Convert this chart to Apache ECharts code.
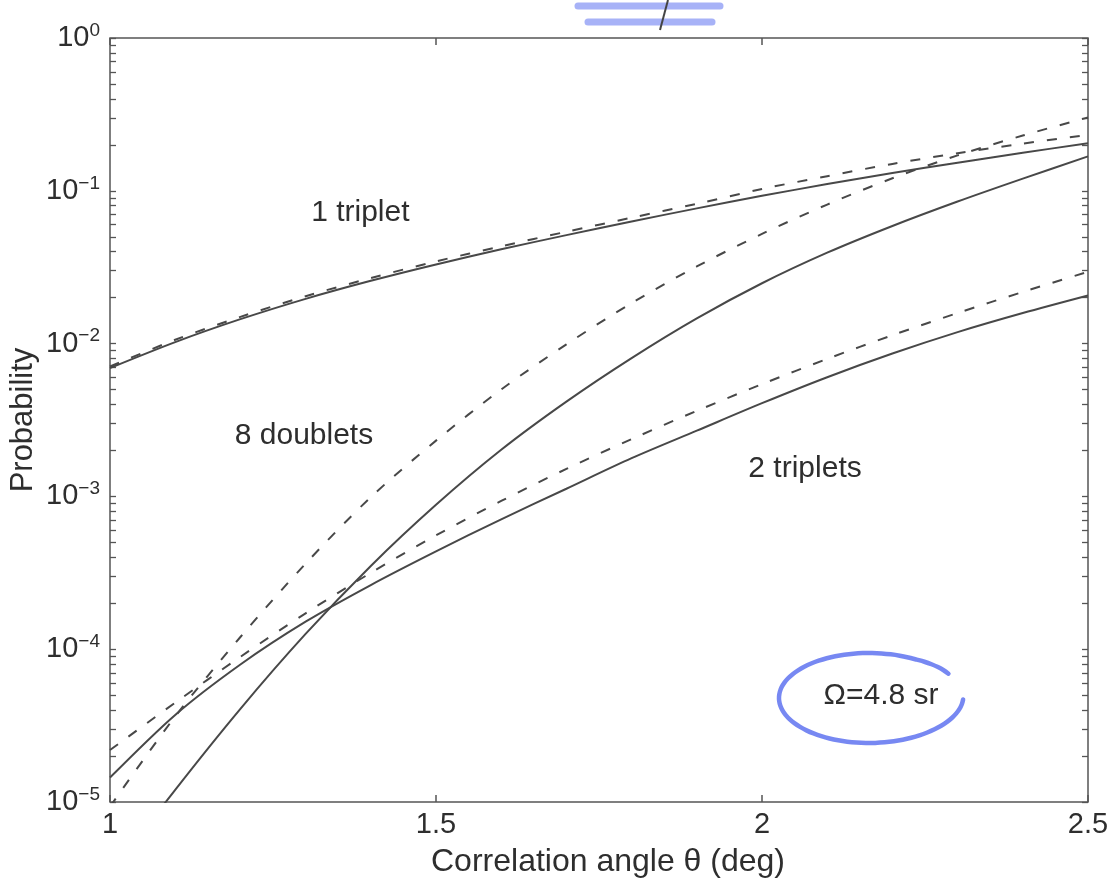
<!DOCTYPE html>
<html><head><meta charset="utf-8">
<script src="https://cdn.jsdelivr.net/npm/echarts@6/dist/echarts.min.js"></script>
<style>html,body{margin:0;padding:0;background:#fff}#c{width:1118px;height:889px}</style>
</head><body><div id="c"></div>
<script>
// ---- data ----
const theta = [1.0, 1.1, 1.2, 1.3, 1.4, 1.5, 1.6, 1.7, 1.8, 1.9, 2.0, 2.1, 2.2, 2.3, 2.4, 2.5];

const oneTripletSolid  = [0.00692, 0.01023, 0.01445, 0.01963, 0.02576, 0.03296, 0.04140, 0.05129, 0.06295, 0.07674, 0.09268, 0.1107, 0.1306, 0.1528, 0.1774, 0.2046];
const oneTripletDashed = [0.00708, 0.01059, 0.01496, 0.02042, 0.02685, 0.03451, 0.04335, 0.05395, 0.06668, 0.08222, 0.1028, 0.1247, 0.1500, 0.1762, 0.2037, 0.2323];
const eightDoubletsSolid  = [3.31e-6, 1.202e-5, 4.074e-5, 1.259e-4, 3.508e-4, 8.810e-4, 2.018e-3, 4.169e-3, 8.035e-3, 0.01462, 0.02483, 0.03936, 0.05888, 0.08511, 0.1202, 0.1679];
const eightDoubletsDashed = [9.33e-6, 3.631e-5, 1.202e-4, 3.631e-4, 9.886e-4, 2.317e-3, 5.012e-3, 9.886e-3, 0.01841, 0.03199, 0.05224, 0.08128, 0.1208, 0.1706, 0.2301, 0.3020];
const twoTripletsSolid  = [1.445e-5, 3.715e-5, 7.943e-5, 1.514e-4, 2.630e-4, 4.365e-4, 7.079e-4, 1.122e-3, 1.778e-3, 2.692e-3, 4.074e-3, 6.026e-3, 8.610e-3, 0.01189, 0.01585, 0.02065];
const twoTripletsDashed = [2.188e-5, 4.467e-5, 8.913e-5, 1.718e-4, 3.162e-4, 5.559e-4, 9.333e-4, 1.514e-3, 2.371e-3, 3.631e-3, 5.433e-3, 7.943e-3, 0.01135, 0.01585, 0.02178, 0.02951];

const xTicks = [1, 1.5, 2, 2.5];
const yDecades = [1e-5, 1e-4, 1e-3, 1e-2, 1e-1, 1];
const yMantissas = [1, 2, 3, 4, 5, 6, 7, 8, 9];

const annotationNames = ['1 triplet', '8 doublets', '2 triplets', '\u03a9=4.8 sr'];
const annotationX = [1.384, 1.2975, 2.066, 2.1825];
const annotationY = [0.0716, 0.00248, 0.00151, 4.94e-5];

// ---- build ----
const yTicks = [];
yDecades.forEach((d, i) => {
  if (i === yDecades.length - 1) { yTicks.push(d); return; }
  yMantissas.forEach(m => yTicks.push(+(m * d).toPrecision(3)));
});
const pairs = arr => theta.map((t, i) => [t, arr[i]]);

const FONT = 'Liberation Sans, Arial, Helvetica, sans-serif';
const TXT = '#2e2e2e';
const LINE = '#484848';

const expLabel = v => {
  const e = Math.round(Math.log10(v));
  return '{a|10}{b|' + (e < 0 ? '\u2212' + (-e) : String(e)) + '}';
};

const solid = { color: LINE, width: 2, type: 'solid' };
const dashed = { color: LINE, width: 2, type: [10, 13] };
const lineSeries = (name, arr, style) => ({
  name, type: 'line', data: pairs(arr), smooth: 0.3, showSymbol: false, symbol: 'none',
  lineStyle: style, clip: true, z: 3, silent: true
});

const chart = echarts.init(document.getElementById('c'), null, { renderer: 'canvas' });
chart.setOption({
  animation: false,
  backgroundColor: '#fff',
  grid: { left: 110, right: 30, top: 38, bottom: 87, show: true, borderColor: '#555', borderWidth: 1.5, outerBoundsMode: 'none' },
  xAxis: [{
    type: 'value', min: 1, max: 2.5, interval: 0.5, position: 'bottom',
    name: 'Correlation angle \u03b8 (deg)', nameLocation: 'middle', nameGap: 44,
    nameTextStyle: { fontFamily: FONT, fontSize: 32, color: TXT, padding: [0, 0, 0, 18] },
    axisLine: { show: false },
    axisTick: { show: true, inside: true, length: 7, lineStyle: { color: '#555', width: 1.5 } },
    axisLabel: { show: true, customValues: xTicks, margin: 8, fontFamily: FONT, fontSize: 29, color: TXT, showMinLabel: true, showMaxLabel: true },
    splitLine: { show: false }
  }, {
    type: 'value', min: 1, max: 2.5, interval: 0.5, position: 'top',
    axisLine: { show: false },
    axisTick: { show: true, inside: true, length: 7, lineStyle: { color: '#555', width: 1.5 } },
    axisLabel: { show: false }, splitLine: { show: false }
  }],
  yAxis: [{
    type: 'log', logBase: 10, min: 1e-5, max: 1, position: 'left',
    name: 'Probability', nameLocation: 'middle', nameGap: 71, nameRotate: 90, nameMoveOverlap: false,
    nameTextStyle: { fontFamily: FONT, fontSize: 31, color: TXT },
    axisLine: { show: false },
    axisTick: { show: true, inside: true, length: 6, customValues: yTicks, lineStyle: { color: '#555', width: 1.3 } },
    axisLabel: {
      show: true, customValues: yDecades, margin: 10, formatter: expLabel,
      rich: {
        a: { fontFamily: FONT, fontSize: 29, color: TXT, lineHeight: 34 },
        b: { fontFamily: FONT, fontSize: 19, color: TXT, lineHeight: 19, verticalAlign: 'top' }
      }
    },
    splitLine: { show: false }, minorSplitLine: { show: false }
  }, {
    type: 'log', logBase: 10, min: 1e-5, max: 1, position: 'right',
    axisLine: { show: false },
    axisTick: { show: true, inside: true, length: 6, customValues: yTicks, lineStyle: { color: '#555', width: 1.3 } },
    axisLabel: { show: false }, splitLine: { show: false }
  }],
  series: [
    lineSeries('1 triplet (solid)', oneTripletSolid, solid),
    lineSeries('1 triplet (dashed)', oneTripletDashed, dashed),
    lineSeries('8 doublets (solid)', eightDoubletsSolid, solid),
    lineSeries('8 doublets (dashed)', eightDoubletsDashed, dashed),
    lineSeries('2 triplets (solid)', twoTripletsSolid, solid),
    lineSeries('2 triplets (dashed)', twoTripletsDashed, dashed),
    {
      type: 'scatter', silent: true, symbolSize: 1, itemStyle: { color: 'rgba(0,0,0,0)', opacity: 1 }, z: 5,
      data: annotationNames.map((n, i) => ({ name: n, value: [annotationX[i], annotationY[i]] })),
      label: { show: true, position: 'inside', formatter: p => p.name, fontFamily: FONT, fontSize: 30, color: TXT, opacity: 1 }
    },
    {
      type: 'custom', silent: true, z: 4, clip: false,
      data: [[annotationX[3], annotationY[3]]],
      renderItem: (params, api) => {
        const c = api.coord([api.value(0), api.value(1)]);
        const cx = c[0] - 12, cy = c[1] + 2, rx = 90, ry = 45;
        const pts = [];
        for (let d = 28; d <= 358; d += 6) {
          const t = d * Math.PI / 180;
          const rr = d > 300 ? 1 + (d - 300) * 0.0008 : 1;
          pts.push([cx + rx * rr * Math.cos(t), cy - ry * Math.sin(t) - (d < 60 ? (60 - d) * 0.1 : 0)]);
        }
        return { type: 'polyline', shape: { points: pts, smooth: 0.4 },
          style: { stroke: 'rgba(95,115,240,0.85)', lineWidth: 4.5, fill: null, lineCap: 'round' } };
      }
    }
  ],
  graphic: [
    { type: 'line', shape: { x1: 578, y1: 6, x2: 720, y2: 6 }, style: { stroke: 'rgba(95,115,240,0.55)', lineWidth: 7, lineCap: 'round' }, silent: true },
    { type: 'line', shape: { x1: 588, y1: 22, x2: 712, y2: 22 }, style: { stroke: 'rgba(95,115,240,0.55)', lineWidth: 7, lineCap: 'round' }, silent: true },
    { type: 'line', shape: { x1: 668, y1: 0, x2: 660, y2: 30 }, style: { stroke: '#444', lineWidth: 2 }, silent: true }
  ]
});
</script></body></html>
